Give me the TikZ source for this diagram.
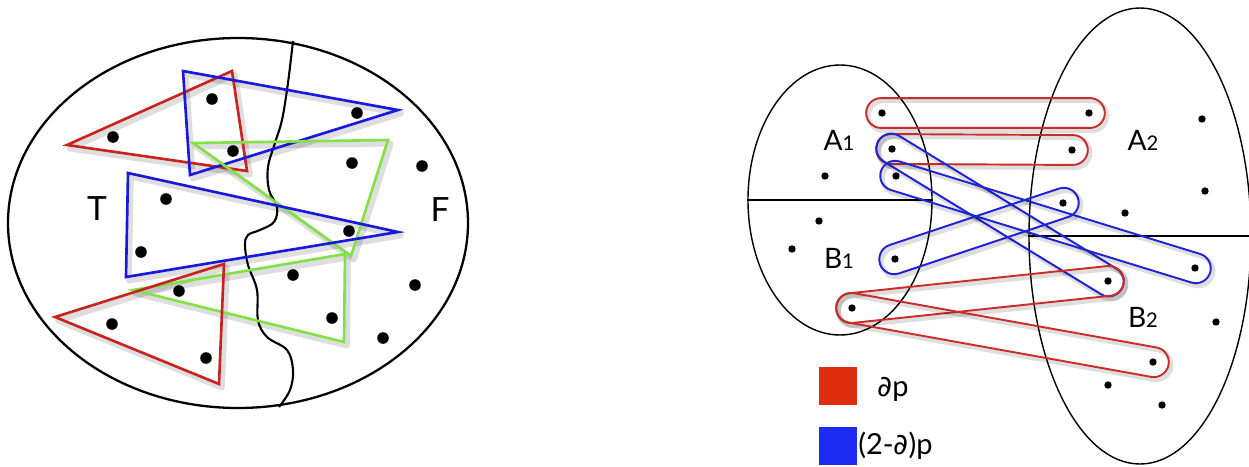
\documentclass[tikz,border=0pt]{standalone}
\usepackage{fontspec}
\setsansfont{Lato}
\newfontfamily\symf{DejaVu Sans}
\usetikzlibrary{calc,shapes.geometric}
\definecolor{tred}{RGB}{200,35,30}
\definecolor{tblue}{RGB}{25,25,220}
\definecolor{tgreen}{RGB}{130,225,70}
\definecolor{cred}{RGB}{200,45,40}
\definecolor{cblue}{RGB}{30,35,215}
\definecolor{legred}{RGB}{222,45,15}
\definecolor{legblue}{RGB}{30,45,245}
\newcommand\capsule[3]{%
  \path let \p1=($(#3.center)-(#2.center)$), \n1={atan2(\y1,\x1)}, \n2={veclen(\x1,\y1)} in
    node[capsh, rotate=\n1, minimum width=\n2+18pt] at ($(#2.center)!0.5!(#3.center)$) {}
    node[capst, draw=#1, rotate=\n1, minimum width=\n2+18pt] at ($(#2.center)!0.5!(#3.center)$) {};}
\begin{document}
\begin{tikzpicture}[x=0.02cm,y=-0.02cm,
  dotL/.style={circle,fill=black,inner sep=0pt,minimum size=6.6pt},
  dotR/.style={circle,fill=black,inner sep=0pt,minimum size=4.2pt},
  bigell/.style={draw=black,line width=1.3pt},
  smell/.style={draw=black,line width=0.8pt},
  tri/.style={line width=1.5pt,line join=miter},
  trsh/.style={draw=black,opacity=0.13,line width=3.4pt,line join=round,transform canvas={shift={(1.6pt,-2pt)}}},
  capst/.style={rectangle,rounded corners=8.5pt,minimum height=17pt,inner sep=0pt,line width=1.1pt},
  capsh/.style={rectangle,rounded corners=8.5pt,minimum height=17pt,inner sep=0pt,draw=black,opacity=0.13,line width=2.6pt,xshift=1.3pt,yshift=-1.6pt},
  bigtxt/.style={font=\sffamily\fontsize{19}{19}\selectfont},
  lbl/.style={font=\sffamily\fontsize{16}{16}\selectfont},
  legtxt/.style={font=\sffamily\fontsize{16.5}{17}\selectfont,anchor=west,inner sep=0pt},
  legbox/.style={inner sep=0pt,minimum size=22pt}]
\useasboundingbox (0,0) rectangle (1249,467);
% ---------------- left diagram ----------------
\node[bigell,ellipse,inner sep=0pt,minimum width=460*0.02cm,minimum height=370*0.02cm] (E) at (238,223) {};
\draw[line width=1.2pt] plot[smooth,tension=0.6] coordinates {(293,41) (290,67) (287,90) (282,120) (275,143) (268,167) (269,190) (277,207) (274,222) (260,230) (248,235) (245,245) (248,265) (257,290) (258,320) (267,337) (287,350) (293,370) (290,390) (279,407)};
% triangle corners
\coordinate (ra1) at (67,145);  \coordinate (ra2) at (232,71);  \coordinate (ra3) at (247,171);
\coordinate (ba1) at (183,71);  \coordinate (ba2) at (398,110); \coordinate (ba3) at (190,175);
\coordinate (ga1) at (193,143); \coordinate (ga2) at (388,140); \coordinate (ga3) at (351,256);
\coordinate (bb1) at (128,173); \coordinate (bb2) at (398,232); \coordinate (bb3) at (126,277);
\coordinate (gb1) at (133,290); \coordinate (gb2) at (345,254); \coordinate (gb3) at (344,342);
\coordinate (rb1) at (55,317);  \coordinate (rb2) at (224,264); \coordinate (rb3) at (219,384);
\foreach \t in {ra,ba,ga,bb,gb,rb} {\draw[trsh] (\t1) -- (\t2) -- (\t3) -- cycle;}
\draw[tri,tred]   (ra1) -- (ra2) -- (ra3) -- cycle;
\draw[tri,tblue]  (ba1) -- (ba2) -- (ba3) -- cycle;
\draw[tri,tgreen] (ga1) -- (ga2) -- (ga3) -- cycle;
\draw[tri,tblue]  (bb1) -- (bb2) -- (bb3) -- cycle;
\draw[tri,tgreen] (gb1) -- (gb2) -- (gb3) -- cycle;
\draw[tri,tred]   (rb1) -- (rb2) -- (rb3) -- cycle;
% dots
\node[dotL] (l1) at (212,99) {};
\node[dotL] (l2) at (113,137) {};
\node[dotL] (l3) at (233,151) {};
\node[dotL] (l4) at (357,113) {};
\node[dotL] (l5) at (352,163) {};
\node[dotL] (l6) at (422,166) {};
\node[dotL] (l7) at (166,199) {};
\node[dotL] (l8) at (349,231) {};
\node[dotL] (l9) at (141,252) {};
\node[dotL] (l10) at (293,275) {};
\node[dotL] (l11) at (415,285) {};
\node[dotL] (l12) at (179,291) {};
\node[dotL] (l13) at (112,324) {};
\node[dotL] (l14) at (332,318) {};
\node[dotL] (l15) at (383,338) {};
\node[dotL] (l16) at (206,358) {};
\node[bigtxt] (T) at (97,209) {T};
\node[bigtxt] (F) at (440,210) {F};
% ---------------- right diagram ----------------
\node[smell,ellipse,inner sep=0pt,minimum width=184*0.02cm,minimum height=270*0.02cm] (E1) at (840,200) {};
\node[smell,ellipse,inner sep=0pt,minimum width=222*0.02cm,minimum height=456*0.02cm] (E2) at (1140,236) {};
\draw[line width=0.9pt] (E1.west) -- (E1.east);
\coordinate (e2r) at (1249,236);
\draw[line width=0.9pt] (E2.west) -- (e2r);
% dots
\node[dotR] (r1) at (882,113) {};
\node[dotR] (r2) at (1089,113) {};
\node[dotR] (r3) at (1202,119) {};
\node[dotR] (r4) at (892,149) {};
\node[dotR] (r5) at (1072,150) {};
\node[dotR] (r6) at (825,176) {};
\node[dotR] (r7) at (896,176) {};
\node[dotR] (r8) at (1205,191) {};
\node[dotR] (r9) at (1063,203) {};
\node[dotR] (r10) at (1125,213) {};
\node[dotR] (r11) at (819,221) {};
\node[dotR] (r12) at (792,249) {};
\node[dotR] (r13) at (895,259) {};
\node[dotR] (r14) at (1195,268) {};
\node[dotR] (r15) at (1108,281) {};
\node[dotR] (r16) at (852,308) {};
\node[dotR] (r17) at (1216,322) {};
\node[dotR] (r18) at (1153,362) {};
\node[dotR] (r19) at (1108,385) {};
\node[dotR] (r20) at (1162,405) {};
% capsules
\capsule{cred}{r1}{r2}
\capsule{cred}{r4}{r5}
\capsule{cblue}{r4}{r15}
\capsule{cblue}{r7}{r14}
\capsule{cblue}{r13}{r9}
\capsule{cred}{r16}{r15}
\capsule{cred}{r16}{r18}
% labels
\node[lbl] (A1) at (839,140) {A{\fontsize{11.5}{12}\selectfont 1}};
\node[lbl] (A2) at (1143,140) {A{\fontsize{11.5}{12}\selectfont 2}};
\node[lbl] (B1) at (839,258) {B{\fontsize{11.5}{12}\selectfont 1}};
\node[lbl] (B2) at (1143,317) {B{\fontsize{11.5}{12}\selectfont 2}};
% legend
\node[legbox,fill=legred] (k1) at (838,386) {};
\node[legbox,fill=legblue] (k2) at (838,446) {};
\node[legtxt] (k1t) at (877,389) {{\symf ∂}p};
\node[legtxt] (k2t) at (858,446) {(2-{\symf ∂})p};
\end{tikzpicture}
\end{document}
